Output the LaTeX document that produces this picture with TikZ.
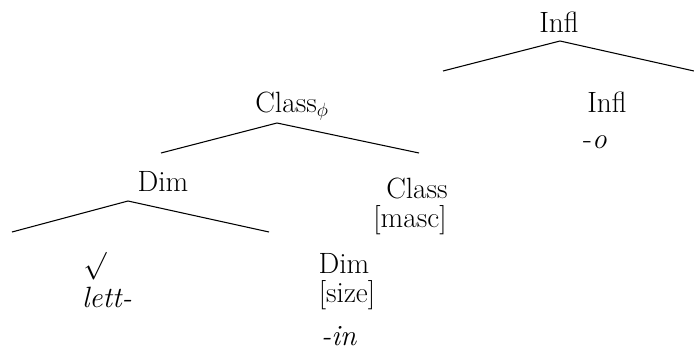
\documentclass[tikz,border=0pt]{standalone}
\usepackage{tikz}

\begin{document}
\begin{tikzpicture}[x=0.75pt,y=-0.75pt,
  lbl/.style={anchor=base,inner sep=0pt,font=\fontsize{22}{26}\selectfont},
  branch/.style={line width=0.8pt}]
\useasboundingbox (0,0) rectangle (694,350);
% Top Infl
\node[lbl] (infltop) at (559,32) {Infl};
\coordinate (infltop-apex) at (560,41);
\coordinate (infltop-l) at (443,71);
\coordinate (infltop-r) at (694,71);
\draw[branch] (infltop-l) -- (infltop-apex) -- (infltop-r);
% Class phi
\node[lbl] (classphi) at (292,112) {Class$_{\phi}$};
\coordinate (classphi-apex) at (277,123);
\coordinate (classphi-l) at (161,153);
\coordinate (classphi-r) at (419,153);
\draw[branch] (classphi-l) -- (classphi-apex) -- (classphi-r);
% Lower Infl
\node[lbl] (infl) at (607,112) {Infl};
\node[lbl] (inflexp) at (595,148) {-\textit{o}};
% Dim
\node[lbl] (dimtop) at (163,191) {Dim};
\coordinate (dim-apex) at (128,201);
\coordinate (dim-l) at (12,232);
\coordinate (dim-r) at (269,232);
\draw[branch] (dim-l) -- (dim-apex) -- (dim-r);
% Class
\node[lbl] (class) at (417,198) {Class};
\node[lbl] (masc) at (410,227) {[masc]};
% Root
\node[lbl] (root) at (95,273) {$\surd$};
\node[lbl] (rootexp) at (107,307) {\textit{lett-}};
% Lower Dim
\node[lbl] (dim) at (344,273) {Dim};
\node[lbl] (size) at (347,302) {[size]};
\node[lbl] (dimexp) at (339,345) {\textit{-in}};
\end{tikzpicture}
\end{document}
